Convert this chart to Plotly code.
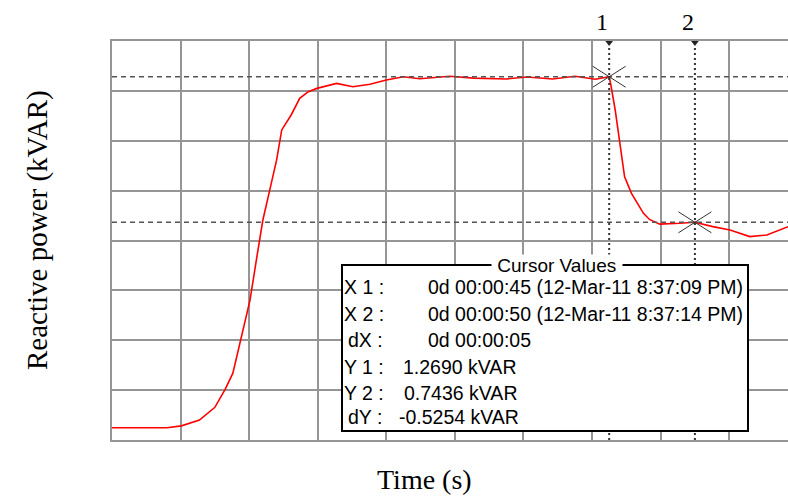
import plotly.graph_objects as go

# ---------------- data ----------------
time_s = [16.0, 19.2, 20.05, 21.1, 22.0, 22.6, 23.05, 23.45, 24.05, 24.45, 24.8, 25.2,
          25.6, 25.9, 26.45, 26.95, 27.45, 27.95, 29.1, 30.05, 31.05, 32.0, 33.0, 33.95,
          35.7, 37.1, 39.0, 40.2, 41.7, 43.0, 44.2, 45.0, 45.1, 45.35, 45.6, 45.9, 46.3,
          47.0, 47.35, 47.95, 49.1, 50.0, 51.05, 52.05, 53.2, 54.2, 55.43]
reactive_kvar = [0.002, 0.002, 0.009, 0.030, 0.076, 0.141, 0.199, 0.307, 0.463, 0.619, 0.752, 0.860,
                 0.968, 1.077, 1.131, 1.191, 1.215, 1.227, 1.245, 1.233, 1.242, 1.257, 1.269, 1.262,
                 1.271, 1.264, 1.261, 1.268, 1.261, 1.271, 1.260, 1.269, 1.239, 1.149, 1.041, 0.908, 0.848,
                 0.776, 0.754, 0.737, 0.740, 0.7436, 0.728, 0.716, 0.692, 0.698, 0.728]

cursor_names = ["1", "2"]
cursor_x = [45, 50]            # seconds
cursor_y = [1.2690, 0.7436]    # kVAR
cursor_times = ["0d 00:00:45 (12-Mar-11 8:37:09 PM)", "0d 00:00:50 (12-Mar-11 8:37:14 PM)"]
cursor_dx_text = "0d 00:00:05"

x_title = "Time (s)"
y_title = "Reactive power (kVAR)"
box_title = "Cursor Values"

# ---------------- layout geometry ----------------
W, H = 788, 499
L, R, T, B = 112, 0, 41, 59
PW, PH = W - L - R, H - T - B
X_RANGE = [16, 55.43]
Y_RANGE = [-0.042, 1.398]


def px(x):
    return (x - L) / PW


def py(y):
    return (T + PH - y) / PH


xs_per_px = (X_RANGE[1] - X_RANGE[0]) / PW
ys_per_px = (Y_RANGE[1] - Y_RANGE[0]) / PH

fig = go.Figure()

fig.add_trace(go.Scatter(x=time_s, y=reactive_kvar, mode="lines",
                         line=dict(color="#ff0000", width=1.6), hoverinfo="skip",
                         showlegend=False))

# cursor triangles at the top
fig.add_trace(go.Scatter(x=cursor_x, y=[Y_RANGE[1] - 1.5 * ys_per_px] * len(cursor_x),
                         mode="markers", cliponaxis=False,
                         marker=dict(symbol="triangle-down", size=7, color="#222222"),
                         showlegend=False, hoverinfo="skip"))

shapes = []
# horizontal cursor lines
for cy in cursor_y:
    shapes.append(dict(type="line", xref="paper", x0=0, x1=1, yref="y", y0=cy, y1=cy,
                       line=dict(color="#555555", width=1.5, dash="5px,4px"), layer="above"))
# vertical cursor lines
for cx in cursor_x:
    shapes.append(dict(type="line", xref="x", x0=cx, x1=cx, yref="paper", y0=0, y1=py(45),
                       line=dict(color="#333333", width=2, dash="2px,3px"), layer="above"))
# X markers at cursor points
hx, hy = 16.5 * xs_per_px, 10.5 * ys_per_px
for cx, cy in zip(cursor_x, cursor_y):
    shapes.append(dict(type="line", xref="x", yref="y", x0=cx - hx, x1=cx + hx, y0=cy + hy, y1=cy - hy,
                       line=dict(color="#333333", width=1), layer="above"))
    shapes.append(dict(type="line", xref="x", yref="y", x0=cx - hx, x1=cx + hx, y0=cy - hy, y1=cy + hy,
                       line=dict(color="#333333", width=1), layer="above"))
# cursor values box
shapes.append(dict(type="rect", xref="paper", yref="paper", x0=px(342), x1=px(748),
                   y0=py(431), y1=py(265), fillcolor="white",
                   line=dict(color="#000000", width=2), layer="above"))

annotations = []
serif = "Liberation Serif, Times New Roman, serif"
sans = "Liberation Sans, Arial, sans-serif"

# cursor numbers
for name, cx in zip(cursor_names, cursor_x):
    annotations.append(dict(text=name, x=cx, xref="x", xshift=-7, y=py(22), yref="paper",
                            xanchor="center", yanchor="middle", showarrow=False,
                            font=dict(family=serif, size=24, color="black")))

# axis titles
annotations.append(dict(text=x_title, x=px(424), y=py(479), xref="paper", yref="paper",
                        xanchor="center", yanchor="middle", showarrow=False,
                        font=dict(family=serif, size=28, color="black")))
annotations.append(dict(text=y_title, x=px(37), y=py(230), xref="paper", yref="paper",
                        xanchor="center", yanchor="middle", showarrow=False, textangle=-90,
                        font=dict(family=serif, size=29, color="black")))

# box title
annotations.append(dict(text="&nbsp;" + box_title + "&nbsp;", x=px(557), y=py(265), xref="paper", yref="paper",
                        xanchor="center", yanchor="middle", showarrow=False, bgcolor="white",
                        borderpad=0, font=dict(family=sans, size=19, color="black")))

dy_val = cursor_y[1] - cursor_y[0]
labels = ["X 1 :", "X 2 :", "dX :", "Y 1 :", "Y 2 :", "dY :"]
values = [cursor_times[0], cursor_times[1], cursor_dx_text,
          f"{cursor_y[0]:.4f} kVAR", f"{cursor_y[1]:.4f} kVAR", f"{dy_val:.4f} kVAR"]
label_x = [343, 343, 347, 343, 343, 347]
value_x = [427, 427, 427, 402, 403, 398]
row_y = [287, 313.5, 340, 367, 392.5, 417]
for lab, val, lx, vx, ry in zip(labels, values, label_x, value_x, row_y):
    annotations.append(dict(text=lab, x=px(lx), y=py(ry), xref="paper", yref="paper",
                            xanchor="left", yanchor="middle", showarrow=False, borderpad=0,
                            font=dict(family=sans, size=19.5, color="black")))
    annotations.append(dict(text=val, x=px(vx), y=py(ry), xref="paper", yref="paper",
                            xanchor="left", yanchor="middle", showarrow=False, borderpad=0,
                            font=dict(family=sans, size=19.5, color="black")))

axis_common = dict(showgrid=True, gridcolor="#959595", gridwidth=1.6, showticklabels=False,
                   ticks="", zeroline=False, showline=True, linecolor="#959595", linewidth=1.6,
                   fixedrange=True)

fig.update_layout(
    width=W, height=H,
    margin=dict(l=L, r=R, t=T, b=B, pad=0),
    paper_bgcolor="white", plot_bgcolor="white",
    xaxis=dict(range=X_RANGE, tick0=16, dtick=4, mirror=True, **axis_common),
    yaxis=dict(range=Y_RANGE, tick0=Y_RANGE[0], dtick=0.18, mirror=False, **axis_common),
    shapes=shapes, annotations=annotations, showlegend=False,
)

fig.write_html("out.html")
